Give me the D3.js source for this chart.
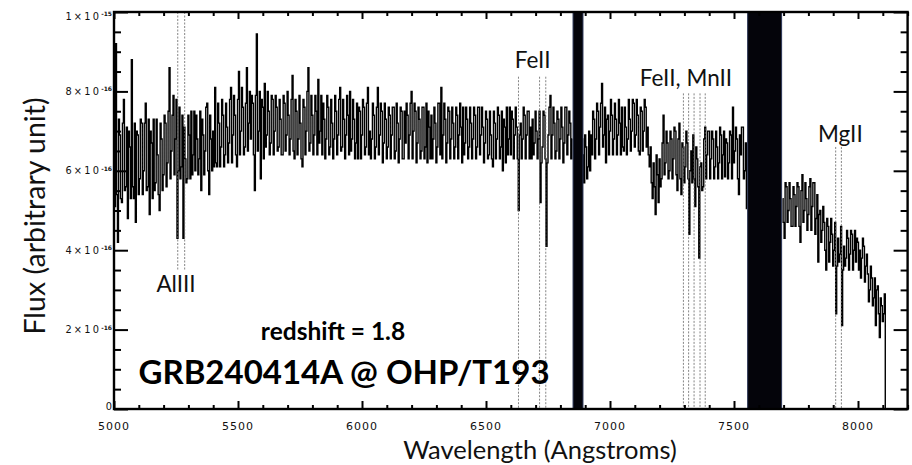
<!DOCTYPE html>
<html>
<head>
<meta charset="utf-8">
<script src="https://cdn.jsdelivr.net/npm/d3@7"></script>
<style>
  html, body { margin: 0; padding: 0; background: #fff; }
  svg { display: block; }
</style>
</head>
<body>
<svg id="chart" width="912" height="465"></svg>
<script>
// Spectrum sampled every 4 Angstroms from 5000 A; flux in units of 1e-16 (null = masked)
const lambdaStart = 5000;
const lambdaStep = 4;
const flux = [
  6.4,5.1, 9.2,5.4, 4.2,7.3, 6.9,5.3, 5.2,7.2, 7.8,5.5, 5.6,7.1, 4.8,7.0, 6.6,5.3, 8.8,5.6,
  5.3,7.2, 4.7,7.0, 6.9,5.4, 5.8,7.3, 7.2,5.4, 6.0,7.2, 7.7,5.5, 5.6,7.3, 4.9,7.0, 6.7,5.3,
  7.3,5.5, 5.7,7.3, 6.4,5.4, 5.0,7.2, 6.8,5.5, 5.9,7.4, 7.2,5.6, 6.2,7.5, 8.6,5.8, 6.5,7.4,
  7.9,5.9, 6.8,7.8, 4.3,6.0, 7.6,5.8, 6.1,7.4, 4.3,7.1, 6.3,5.7, 5.8,7.4, 6.9,5.8, 7.5,5.9,
  6.4,7.5, 6.0,7.4, 6.8,5.9, 6.3,7.5, 5.5,7.3, 6.9,5.9, 6.5,7.6, 7.7,6.0, 5.4,7.4, 6.8,6.0,
  7.0,6.1, 8.1,6.2, 6.1,7.7, 7.2,6.1, 6.6,7.8, 7.4,6.1, 6.4,7.7, 7.1,6.2, 6.7,7.8, 8.1,6.2,
  6.9,7.9, 7.4,6.4, 6.1,7.8, 8.5,6.4, 7.0,8.1, 7.6,6.4, 6.6,7.7, 8.6,6.5, 7.2,8.0, 6.8,7.9,
  7.7,6.4, 5.5,7.9, 9.45,6.5, 7.0,8.0, 5.8,7.8, 7.6,6.3, 8.2,6.6, 6.9,8.0, 7.5,6.4, 6.7,7.9,
  7.8,6.4, 7.0,7.9, 7.6,6.5, 6.6,7.8, 7.3,6.4, 6.4,7.9, 7.7,6.5, 6.9,8.0, 7.4,6.4, 6.8,7.8,
  8.4,6.5, 6.3,7.8, 7.5,6.4, 6.8,7.9, 7.2,6.3, 6.1,7.8, 7.6,6.4, 7.0,8.0, 8.6,6.5, 6.7,7.9,
  7.4,6.4, 6.9,7.9, 7.5,6.4, 8.3,6.7, 7.0,7.9, 6.4,7.7, 7.3,6.3, 6.8,7.9, 7.6,6.4, 6.6,7.8,
  7.2,6.3, 6.8,7.9, 7.5,6.4, 6.9,7.8, 8.1,6.5, 6.6,7.8, 7.3,6.3, 6.9,7.9, 7.4,6.4, 8.0,6.5,
  6.8,7.8, 7.3,6.3, 6.7,7.7, 6.3,7.6, 7.5,6.3, 6.9,7.8, 7.6,6.4, 6.6,7.7, 8.1,6.4, 7.0,6.3,
  6.8,7.7, 7.4,6.3, 6.6,7.6, 8.1,6.4, 6.9,7.7, 7.5,6.2, 6.7,7.7, 7.3,6.3, 6.6,7.6, 7.4,6.3,
  6.9,7.6, 7.6,6.3, 6.5,7.7, 7.2,6.2, 6.8,7.6, 7.5,6.3, 6.3,7.5, 6.7,7.7, 7.4,6.3, 6.9,7.7,
  8.0,6.3, 7.0,7.7, 7.5,6.2, 6.7,7.6, 7.3,6.3, 6.5,7.6, 7.6,6.3, 6.6,7.7, 6.2,7.5, 7.1,6.3,
  7.4,6.3, 6.8,7.6, 7.2,6.2, 6.6,7.7, 7.7,6.4, 8.1,6.3, 6.9,7.7, 7.3,6.2, 6.7,7.6, 7.5,6.3,
  6.8,7.6, 7.2,6.3, 6.6,7.6, 7.4,6.3, 6.9,7.7, 7.1,6.2, 7.6,6.4, 6.7,7.6, 7.3,6.3, 6.6,7.6,
  7.2,6.3, 6.8,7.6, 7.4,6.3, 6.6,7.6, 7.6,6.4, 6.9,7.6, 7.1,6.2, 6.7,7.5, 7.3,6.3, 6.4,7.5,
  6.9,6.3, 6.1,7.5, 7.2,6.3, 6.8,7.6, 7.4,6.3, 6.6,7.5, 6.0,7.3, 7.1,6.2, 7.6,6.4, 6.8,7.6,
  6.4,7.5, 7.3,6.3, 6.9,7.6, 7.1,6.3, 5.0,6.9, 7.2,6.3, 6.8,7.6, 7.4,6.3, 6.9,7.5, 7.5,6.3,
  7.1,6.3, 7.3,6.4, 6.7,7.5, 7.0,6.3, 6.8,7.5, 5.2,6.2, 6.6,7.5, 7.4,6.3, 4.1,6.2, 6.9,7.6,
  7.9,6.3, 6.9,7.6, 7.2,6.3, 6.5,7.5, 7.3,6.3, 6.8,7.6, 7.1,6.2, 6.7,7.6, 7.6,6.4, 6.9,7.5,
  7.2,6.3, 6.8,null, null,null, null,null, null,null, null,null, 6.8,6.4, 5.7,6.9, 6.6,5.8, 6.1,7.0,
  6.0,6.9, 6.4,7.5, 7.3,6.3, 6.8,7.7, 7.5,6.4, 7.1,7.7, 8.2,6.6, 6.9,7.6, 6.2,7.3, 7.4,6.4,
  7.0,7.8, 7.4,6.4, 6.8,7.7, 7.3,6.4, 6.9,7.8, 7.2,6.4, 7.6,6.6, 6.5,7.6, 7.1,6.4, 6.8,7.8,
  7.3,6.5, 7.0,7.8, 7.7,6.6, 6.9,7.8, 7.4,6.5, 6.4,7.6, 7.5,6.5, 7.0,7.8, 7.6,6.6, 7.1,6.4,
  6.1,6.6, 5.7,5.3, 6.2,5.6, 4.9,6.4, 5.9,5.2, 6.3,5.6, 5.8,6.7, 7.4,5.9, 6.2,7.0, 6.7,5.8,
  6.0,7.0, 6.8,5.8, 6.3,7.1, 7.0,5.9, 5.5,6.8, 7.2,5.8, 5.4,6.7, 6.6,5.7, 6.1,7.0, 6.7,5.8,
  4.4,6.0, 6.5,5.7, 6.9,5.8, 5.1,6.6, 6.3,5.6, 3.8,6.1, 6.2,5.5, 5.6,6.8, 7.1,5.8, 6.4,7.0,
  7.0,5.8, 6.3,7.0, 6.8,5.8, 6.1,7.0, 6.6,5.8, 6.2,7.1, 6.9,5.8, 6.4,7.0, 5.85,6.8, 6.7,5.8,
  6.2,7.0, 6.9,5.8, 7.6,6.2, 6.5,7.1, 6.8,5.8, 5.4,6.9, 6.4,7.1, 7.1,5.8, 6.0,6.7, 5.05,null,
  null,null, null,null, null,null, null,null, null,null, null,null, null,null, null,null, null,null, null,null,
  null,null, null,null, null,null, null,null, null,null, null,null, null,null, 5.3,4.7, 4.3,5.7, 5.6,4.7,
  5.0,5.7, 5.3,4.6, 4.6,5.6, 5.4,4.6, 5.1,5.7, 5.6,4.6, 4.2,5.5, 5.9,4.7, 5.0,5.7, 5.3,4.5,
  4.9,5.6, 5.8,4.5, 5.1,5.7, 5.7,4.4, 4.8,5.4, 3.7,4.9, 5.0,4.2, 4.5,5.1, 4.7,4.0, 3.5,4.8,
  4.6,3.7, 4.2,4.8, 4.4,3.6, 4.0,4.7, 2.4,3.6, 4.3,3.7, 3.9,4.6, 2.1,3.5, 4.1,3.6, 3.8,4.5,
  4.3,3.5, 3.9,4.5, 4.4,3.5, 4.0,4.5, 3.7,4.3, 4.2,3.5, 4.0,3.3, 3.8,4.3, 4.1,3.2, 3.6,3.9,
  3.4,2.7, 3.0,3.6, 3.3,2.6, 2.8,3.3, 2.1,3.0, 3.1,2.4, 1.8,2.8, 2.6,2.2, 2.4,2.9, 0,0
];

// Axis ticks
const xTicks = [5000, 5500, 6000, 6500, 7000, 7500, 8000];
const xTickLabels = ["5000", "5500", "6000", "6500", "7000", "7500", "8000"];
const yTicks = [0, 2, 4, 6, 8, 10];
const yTickMantissa = ["0", "2×10", "4×10", "6×10", "8×10", "1×10"];
const yTickExponent = ["", "-16", "-16", "-16", "-16", "-15"];

// Telluric bands masked in black (Angstroms)
const bandStart = [6851, 7555];
const bandEnd = [6891, 7692];

// Absorption line identifications
const lineNames = ["AlIII", "FeII", "FeII, MnII", "MgII"];
const lineWavelengths = [
  [5257, 5285],
  [6631, 6716, 6741],
  [7296, 7317, 7339, 7363, 7384],
  [7910, 7933]
];

const spectrum = flux.map((f, i) => ({ w: lambdaStart + i * lambdaStep, f }));

const svg = d3.select("#chart");
const plotLeft = 114, plotRight = 907.6, plotTop = 12, plotBottom = 409;

const x = d3.scaleLinear().domain([5000, 8200]).range([plotLeft, plotRight]);
const y = d3.scaleLinear().domain([0, 10]).range([plotBottom, plotTop]);

const tickFont = "'DejaVu Sans', sans-serif";
const textFont = "Lato, 'Open Sans', sans-serif";

// Spectrum trace, drawn as a histogram
const line = d3.line()
  .defined(d => d.f != null)
  .x(d => x(d.w))
  .y(d => y(d.f))
  .curve(d3.curveStep);

svg.append("path")
  .datum(spectrum)
  .attr("d", line)
  .attr("fill", "none")
  .attr("stroke", "#000")
  .attr("stroke-width", 1.4)
  .attr("stroke-linejoin", "miter");

// Line markers (dashed verticals)
const markerSpan = [[10, 3.5], [8.37, 0], [7.95, 0], [6.6, 0]];
lineWavelengths.forEach((ws, gi) => {
  ws.forEach(w => {
    svg.append("line")
      .attr("x1", x(w)).attr("x2", x(w))
      .attr("y1", y(markerSpan[gi][0])).attr("y2", y(markerSpan[gi][1]))
      .attr("stroke", "#666")
      .attr("stroke-width", 0.8)
      .attr("stroke-dasharray", "2,1.5");
  });
});

// Masked bands
svg.selectAll("rect.band")
  .data(bandStart.map((s, i) => [s, bandEnd[i]]))
  .join("rect")
  .attr("class", "band")
  .attr("x", d => x(d[0]))
  .attr("width", d => x(d[1]) - x(d[0]))
  .attr("y", y(10))
  .attr("height", y(0) - y(10))
  .attr("fill", "#04040a")
  .attr("stroke", "#2b3656")
  .attr("stroke-width", 1);

// Axes: major and minor ticks pointing inward on all four sides
const xMinor = d3.range(5000, 8201, 100).filter(v => v % 500 !== 0);
const yMinor = d3.range(0, 10.01, 0.5).filter(v => Math.abs(v % 2) > 1e-6);

function styleAxis(g) {
  g.select(".domain").remove();
  g.selectAll(".tick line").attr("stroke", "#000").attr("stroke-width", 2);
  g.selectAll("text").remove();
}

svg.append("g").attr("transform", `translate(0,${plotBottom})`)
  .call(d3.axisBottom(x).tickValues(xTicks).tickSize(-8)).call(styleAxis);
svg.append("g").attr("transform", `translate(0,${plotBottom})`)
  .call(d3.axisBottom(x).tickValues(xMinor).tickSize(-4)).call(styleAxis);
svg.append("g").attr("transform", `translate(0,${plotTop})`)
  .call(d3.axisTop(x).tickValues(xTicks).tickSize(-7)).call(styleAxis);
svg.append("g").attr("transform", `translate(0,${plotTop})`)
  .call(d3.axisTop(x).tickValues(xMinor).tickSize(-4)).call(styleAxis);

svg.append("g").attr("transform", `translate(${plotLeft},0)`)
  .call(d3.axisLeft(y).tickValues(yTicks).tickSize(-14)).call(styleAxis);
svg.append("g").attr("transform", `translate(${plotLeft},0)`)
  .call(d3.axisLeft(y).tickValues(yMinor).tickSize(-7)).call(styleAxis);
svg.append("g").attr("transform", `translate(${plotRight},0)`)
  .call(d3.axisRight(y).tickValues(yTicks).tickSize(-14)).call(styleAxis);
svg.append("g").attr("transform", `translate(${plotRight},0)`)
  .call(d3.axisRight(y).tickValues(yMinor).tickSize(-7)).call(styleAxis);

// Frame
svg.append("rect")
  .attr("x", plotLeft).attr("y", plotTop)
  .attr("width", plotRight - plotLeft).attr("height", plotBottom - plotTop)
  .attr("fill", "none").attr("stroke", "#000").attr("stroke-width", 2.4);

// X tick labels
svg.append("g").selectAll("text")
  .data(xTicks)
  .join("text")
  .attr("x", d => x(d))
  .attr("y", plotBottom + 21)
  .attr("text-anchor", "middle")
  .attr("font-family", tickFont)
  .attr("font-size", 11)
  .attr("letter-spacing", 1)
  .attr("fill", "#111")
  .text((d, i) => xTickLabels[i]);

// Y tick labels with exponents
yTicks.forEach((v, i) => {
  const cy = Math.min(Math.max(y(v), plotTop + 4), plotBottom - 3);
  const t = svg.append("text")
    .attr("x", plotLeft - 2)
    .attr("y", cy + 3.5)
    .attr("text-anchor", "end")
    .attr("font-family", tickFont)
    .attr("fill", "#111");
  t.append("tspan")
    .attr("font-size", 9.8)
    .attr("letter-spacing", yTickExponent[i] ? 2.2 : 0)
    .text(yTickMantissa[i]);
  if (yTickExponent[i]) {
    t.append("tspan")
      .attr("font-size", 6)
      .attr("dy", -3.5)
      .attr("font-weight", "bold")
      .text(yTickExponent[i]);
  }
});

// Axis titles
svg.append("text")
  .attr("x", 540).attr("y", 459)
  .attr("text-anchor", "middle")
  .attr("font-family", textFont)
  .attr("font-size", 25.5)
  .attr("fill", "#111")
  .text("Wavelength (Angstroms)");

svg.append("text")
  .attr("transform", "translate(45,216) rotate(-90)")
  .attr("text-anchor", "middle")
  .attr("font-family", textFont)
  .attr("font-size", 28.5)
  .attr("fill", "#111")
  .text("Flux (arbitrary unit)");

// Line identification labels
const labelAt = [[5250, 2.95], [6688, 8.59], [7306, 8.14], [7929, 6.73]];
lineNames.forEach((name, i) => {
  svg.append("text")
    .attr("x", x(labelAt[i][0]))
    .attr("y", y(labelAt[i][1]))
    .attr("text-anchor", "middle")
    .attr("font-family", textFont)
    .attr("font-size", 22.5)
    .attr("fill", "#111")
    .text(name);
});

// Object annotation
svg.append("text")
  .attr("x", 333).attr("y", 340)
  .attr("text-anchor", "middle")
  .attr("font-family", textFont)
  .attr("font-weight", "bold")
  .attr("font-size", 24.5)
  .attr("fill", "#000")
  .text("redshift = 1.8");

svg.append("text")
  .attr("x", 344).attr("y", 384)
  .attr("text-anchor", "middle")
  .attr("font-family", textFont)
  .attr("font-weight", "bold")
  .attr("font-size", 33)
  .attr("fill", "#000")
  .text("GRB240414A @ OHP/T193");
</script>
</body>
</html>
